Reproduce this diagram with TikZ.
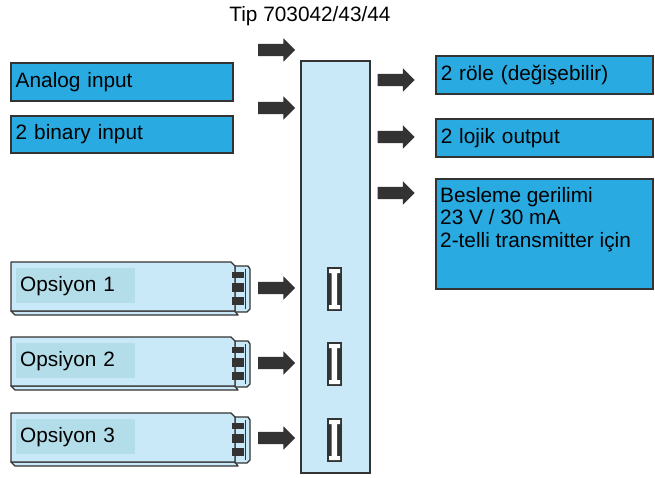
\documentclass[tikz,border=0pt]{standalone}
\usepackage{fontspec}
\setmainfont{Liberation Sans}
\usetikzlibrary{shapes.arrows,calc}
\definecolor{cyanbox}{HTML}{29ABE2}
\definecolor{lightb}{HTML}{C9E8F8}
\definecolor{labelb}{HTML}{B3DDE9}
\definecolor{dark}{HTML}{333333}
\newcommand{\optmodule}[3]{%
  \begin{scope}[shift={(11,#1)}]
    \draw[modline] (0,49) -- (224,49) -- (227,53) -- (4,53) -- cycle;
    \draw[modline] (224,4) -- (237,4) -- (239,7) -- (239,47) -- (236,50) -- (224,50) -- cycle;
    \draw[dark, line width=0.8pt] (234,7) -- (234,47);
    \draw[modline] (0,0) -- (220,0) -- (224,4) -- (224,49) -- (0,49) -- cycle;
    \fill[dark] (221,10) rectangle (233,16);
    \fill[dark] (221,21) rectangle (233,30);
    \fill[dark] (221,35) rectangle (233,43);
    \node[optlabel] (#3) at (5,6) {#2};
  \end{scope}}
\newcommand{\slotmark}[2]{%
  \begin{scope}[shift={(#1,#2)}]
    \fill[dark] (-7.5,-22) rectangle (7.5,22);
    \fill[white] (-5.5,-20) -- (5.5,-20) -- (5.5,-16) -- (2.5,-16) -- (2.5,16) -- (5.5,16) -- (5.5,20)
      -- (-5.5,20) -- (-5.5,16) -- (-3,16) -- (-3,-16) -- (-5.5,-16) -- cycle;
  \end{scope}}
\begin{document}
\begin{tikzpicture}[x=1pt,y=-1pt,
  font=\fontsize{20.8}{22.5}\selectfont,
  fatarrow/.style={single arrow, fill=dark, draw=none, minimum height=37pt,
    minimum width=23pt, single arrow head extend=5.5pt, inner xsep=0pt, inner ysep=6pt,
    text height=0pt, text depth=0pt,
    single arrow tip angle=90, anchor=center},
  bluebox/.style={draw=dark, line width=1.5pt, fill=cyanbox, anchor=north west,
    inner xsep=5pt, inner ysep=0pt, align=left, text width=207pt},
  modline/.style={draw=dark, line width=1.3pt, fill=lightb, line join=round},
  optlabel/.style={fill=labelb, anchor=north west, minimum width=119pt,
    minimum height=35pt, inner xsep=4pt, inner ysep=0pt, text width=111pt, align=left}]
\useasboundingbox (0,0) rectangle (655,477);
\fill[white] (0,0) rectangle (655,477);

\node[anchor=base] (title) at (310,21) {Tip 703042/43/44};

\node[draw=dark, line width=1.5pt, fill=lightb, minimum width=69pt,
  minimum height=412pt, anchor=north west, inner sep=0pt] (main) at (300,60) {};

\node[bluebox, minimum height=38pt, text width=212pt] (ai) at (10,62) {Analog input};
\node[bluebox, minimum height=37pt, text width=212pt] (bi) at (10,115) {2 binary input};

\node[bluebox, minimum height=38pt] (ro) at (435,55) {2 röle (değişebilir)};
\node[bluebox, minimum height=38pt] (lo) at (435,118) {2 lojik output};
\node[bluebox, minimum height=110pt] (bs) at (435,178) {};
\node[anchor=north west, inner sep=0pt, align=left] (bstext) at ($(bs.north west)+(5,9)$)
  {Besleme gerilimi\\23 V / 30 mA\\2-telli transmitter için};

\node[fatarrow] (ia1) at (273.5,50) {};
\node[fatarrow] (ia2) at (273.5,108) {};
\node[fatarrow] (oa1) at (393,80) {};
\node[fatarrow] (oa2) at (393,137) {};
\node[fatarrow] (oa3) at (393,193) {};
\node[fatarrow] (ma1) at (273.5,288) {};
\node[fatarrow] (ma2) at (273.5,363) {};
\node[fatarrow] (ma3) at (273.5,438) {};

\optmodule{262}{Opsiyon 1}{op1}
\optmodule{337}{Opsiyon 2}{op2}
\optmodule{413}{Opsiyon 3}{op3}

\slotmark{334.5}{289}
\slotmark{334.5}{364}
\slotmark{334.5}{440}
\end{tikzpicture}
\end{document}
